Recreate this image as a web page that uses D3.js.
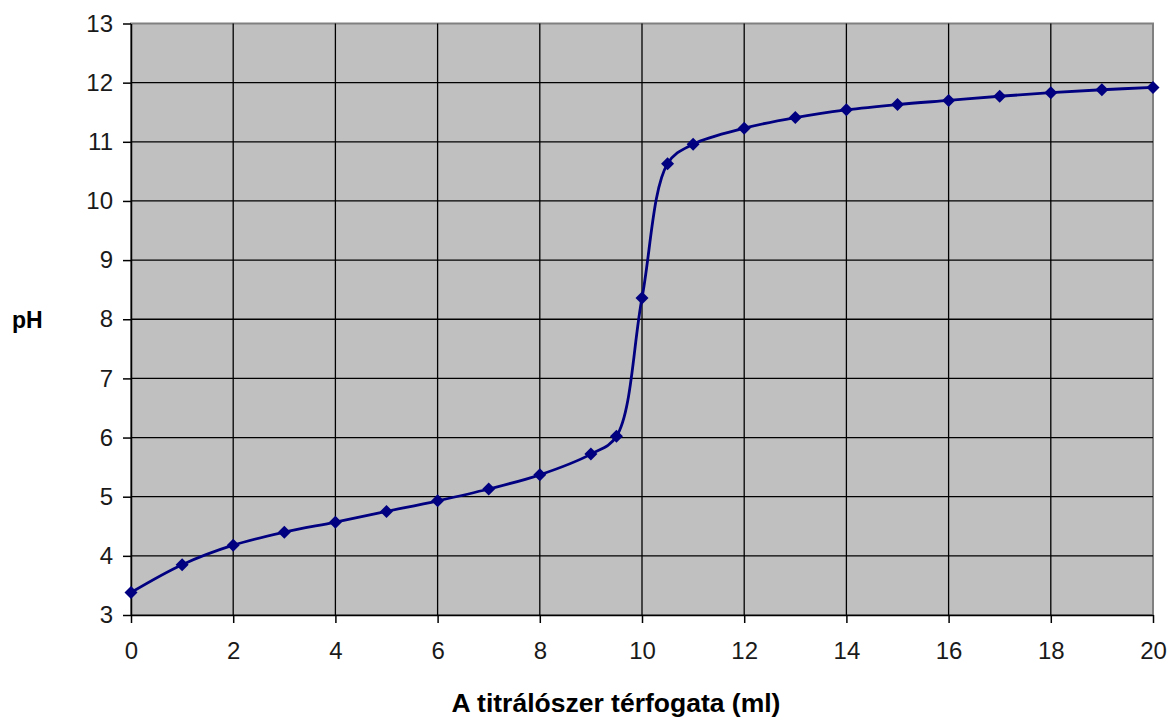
<!DOCTYPE html>
<html>
<head>
<meta charset="utf-8">
<title>pH</title>
<style>
  body { margin: 0; background: #fff; }
  svg { display: block; font-family: "Liberation Sans", Arial, sans-serif; }
  .grid line { stroke: #000; stroke-width: 1.3px; }
  .axis text { font-size: 24px; fill: #1a1a1a; }
  .axis path, .axis line { stroke: #000; stroke-width: 1.5px; }
</style>
<script src="https://cdn.jsdelivr.net/npm/d3@7"></script>
</head>
<body>
<script>
const volumes = [0, 1, 2, 3, 4, 5, 6, 7, 8, 9, 9.5, 10, 10.5, 11, 12, 13, 14, 15, 16, 17, 18, 19, 20];
const phValues = [3.38, 3.85, 4.18, 4.40, 4.57, 4.75, 4.93, 5.13, 5.37, 5.72, 6.02, 8.36, 10.63, 10.96, 11.23, 11.41, 11.54, 11.63, 11.70, 11.77, 11.83, 11.88, 11.92];
const xTicks = [0, 2, 4, 6, 8, 10, 12, 14, 16, 18, 20];
const yTicks = [3, 4, 5, 6, 7, 8, 9, 10, 11, 12, 13];

const width = 1173, height = 720;
const plotLeft = 131, plotRight = 1153, plotTop = 23.5, plotBottom = 615;

const data = volumes.map((v, i) => ({x: v, y: phValues[i]}));

const svg = d3.select('body').append('svg')
    .attr('width', width)
    .attr('height', height);

const x = d3.scaleLinear().domain([0, 20]).range([plotLeft, plotRight]);
const y = d3.scaleLinear().domain([3, 13]).range([plotBottom, plotTop]);

// plot area
svg.append('rect')
    .attr('x', plotLeft).attr('y', plotTop)
    .attr('width', plotRight - plotLeft).attr('height', plotBottom - plotTop)
    .attr('fill', '#c0c0c0')
    .attr('stroke', '#808080')
    .attr('stroke-width', 2);

// grid
svg.append('g').attr('class', 'grid')
    .selectAll('line')
    .data(yTicks.slice(1, -1))
    .enter().append('line')
    .attr('x1', plotLeft).attr('x2', plotRight)
    .attr('y1', d => y(d)).attr('y2', d => y(d));

svg.append('g').attr('class', 'grid')
    .selectAll('line')
    .data(xTicks.slice(1, -1))
    .enter().append('line')
    .attr('y1', plotTop).attr('y2', plotBottom)
    .attr('x1', d => x(d)).attr('x2', d => x(d));

// axes
svg.append('g').attr('class', 'axis')
    .attr('transform', 'translate(' + plotLeft + ',0)')
    .call(d3.axisLeft(y).tickValues(yTicks).tickSize(8).tickPadding(10).tickSizeOuter(0));

svg.append('g').attr('class', 'axis')
    .attr('transform', 'translate(0,' + plotBottom + ')')
    .call(d3.axisBottom(x).tickValues(xTicks).tickSize(8).tickPadding(19).tickSizeOuter(0));

// line (smoothed)
const line = d3.line()
    .x(d => x(d.x))
    .y(d => y(d.y))
    .curve(d3.curveCatmullRom.alpha(0.5));

svg.append('path')
    .datum(data)
    .attr('fill', 'none')
    .attr('stroke', '#000080')
    .attr('stroke-width', 2.8)
    .attr('d', line);

// markers
svg.append('g')
    .selectAll('path')
    .data(data)
    .enter().append('path')
    .attr('transform', d => 'translate(' + x(d.x) + ',' + y(d.y) + ')')
    .attr('d', 'M0,-6.5L6.5,0L0,6.5L-6.5,0Z')
    .attr('fill', '#000080');

// labels
svg.append('text')
    .attr('x', 12).attr('y', 328)
    .attr('font-size', '23px')
    .attr('font-weight', 'bold')
    .text('pH');

svg.append('text')
    .attr('x', 616).attr('y', 712)
    .attr('text-anchor', 'middle')
    .attr('font-size', '26.5px')
    .attr('font-weight', 'bold')
    .text('A titrálószer térfogata (ml)');
</script>
</body>
</html>
